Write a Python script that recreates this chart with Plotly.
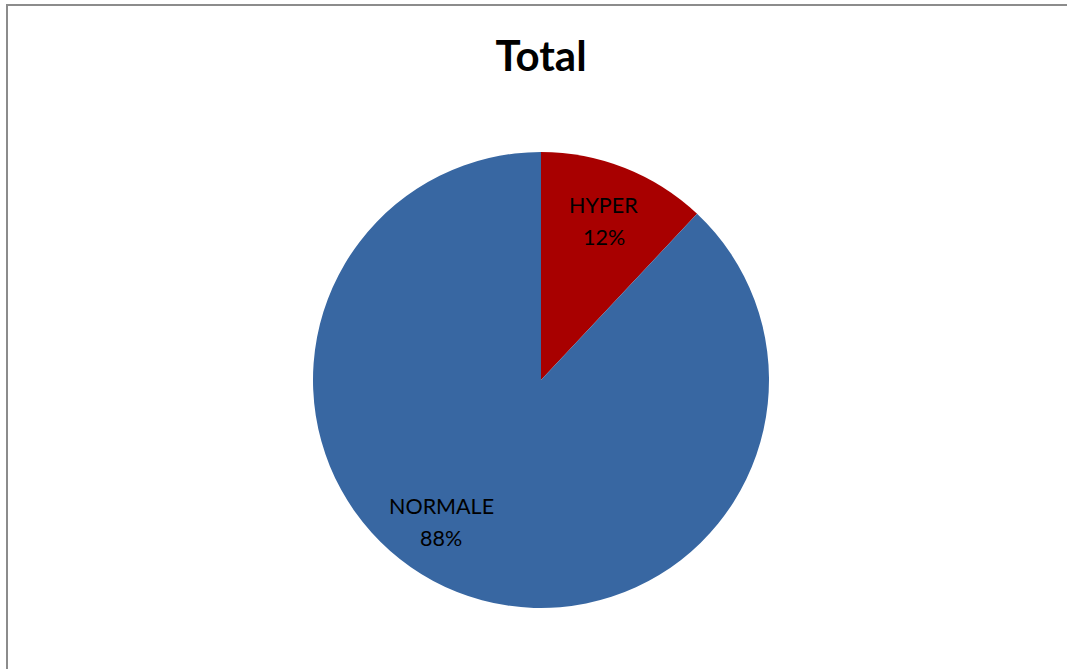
import math
import plotly.graph_objects as go

labels = ["HYPER", "NORMALE"]
values = [12, 88]
colors = ["#A80000", "#3867A2"]
# angle offsets (degrees) of each label from its slice's mid-angle, as Excel placed them
label_angle_offset = [0, 13.5]
label_radius_frac = [0.75, 0.76]

W, H = 1067, 669
cx, cy, R = 541, 380, 228
line_gap = 32

fig = go.Figure()
fig.add_trace(go.Pie(
    labels=labels, values=values, sort=False, direction="clockwise", rotation=0,
    marker=dict(colors=colors, line=dict(width=0)),
    textinfo="none", hoverinfo="label+percent", showlegend=False,
    domain=dict(x=[(cx - R) / W, (cx + R) / W], y=[1 - (cy + R) / H, 1 - (cy - R) / H]),
))

total = sum(values)
cum = 0
for lab, v, off, rf in zip(labels, values, label_angle_offset, label_radius_frac):
    mid = (cum + v / 2) / total * 360 + off
    cum += v
    x = cx + rf * R * math.sin(math.radians(mid))
    y = cy - rf * R * math.cos(math.radians(mid))
    pct = round(v / total * 100)
    for txt, dy in ((lab, -line_gap / 2), (f"{pct}%", line_gap / 2)):
        fig.add_annotation(
            x=x / W, y=1 - (y + dy) / H, xref="paper", yref="paper",
            xanchor="center", yanchor="middle",
            text=txt, showarrow=False,
            font=dict(family="Lato, Open Sans, sans-serif", size=21.5, color="#000000"),
        )

fig.update_layout(
    width=W, height=H,
    margin=dict(l=0, r=0, t=0, b=0),
    paper_bgcolor="white", plot_bgcolor="white",
    title=dict(text="<b>Total</b>", x=541 / W, xanchor="center", y=1 - 56 / H, yanchor="middle",
               font=dict(family="Lato, Open Sans, sans-serif", size=42, color="#000000")),
    shapes=[
        dict(type="line", xref="paper", yref="paper", x0=6 / W, x1=1, y0=1 - 5 / H, y1=1 - 5 / H,
             line=dict(color="#8C8C8C", width=2)),
        dict(type="line", xref="paper", yref="paper", x0=7 / W, x1=7 / W, y0=0, y1=1 - 4 / H,
             line=dict(color="#8C8C8C", width=2)),
    ],
)

fig.write_html("out.html")
